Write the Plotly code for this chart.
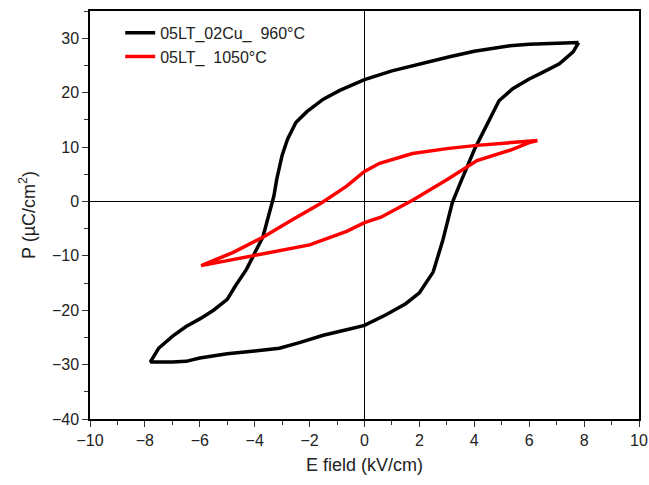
import plotly.graph_objects as go

# 05LT_02Cu_ 960°C loop: upper branch (field going down), then lower branch (field going up)
e_black_up = [7.8, 7.0, 6.0, 5.3, 4.5, 4.0, 3.1, 2.0, 1.0, 0.0, -0.9, -1.5, -2.1, -2.5,
              -2.8, -3.0, -3.2, -3.3, -3.5, -3.7, -4.0, -4.3, -4.7, -5.0, -5.5, -6.0,
              -6.5, -7.0, -7.5, -7.8]
p_black_up = [29.2, 29.1, 28.9, 28.6, 28.0, 27.6, 26.6, 25.3, 24.0, 22.4, 20.4, 18.8,
              16.5, 14.5, 11.5, 8.5, 4.0, 1.0, -3.0, -6.5, -9.5, -12.5, -15.5, -18.0,
              -20.0, -21.6, -23.0, -24.8, -27.0, -29.5]
e_black_dn = [-7.8, -7.0, -6.5, -6.0, -5.0, -4.0, -3.1, -2.4, -1.5, -0.5, 0.0, 0.8, 1.5,
              2.0, 2.5, 2.85, 3.2, 3.5, 3.7, 4.0, 4.3, 4.6, 4.9, 5.4, 6.0, 6.4, 7.1, 7.6, 7.8]
p_black_dn = [-29.5, -29.5, -29.4, -28.8, -28.0, -27.5, -27.0, -26.0, -24.6, -23.4, -22.8,
              -20.8, -18.8, -16.8, -13.0, -7.2, -0.2, 3.5, 6.0, 9.5, 12.5, 15.4, 18.5,
              20.7, 22.5, 23.5, 25.3, 27.5, 29.2]

# 05LT_ 1050°C loop
e_red_up = [6.3, 5.3, 4.1, 3.0, 1.75, 0.55, 0.0, -0.65, -1.6, -2.6, -3.7, -4.8, -5.8, -5.95]
p_red_up = [11.2, 10.8, 10.3, 9.7, 8.8, 7.0, 5.5, 2.8, -0.4, -3.3, -6.6, -9.4, -11.5, -11.8]
e_red_dn = [-5.95, -4.9, -3.5, -2.0, -0.65, 0.0, 0.6, 1.75, 3.0, 4.1, 5.3, 6.0, 6.3]
p_red_dn = [-11.8, -10.8, -9.4, -8.0, -5.5, -3.9, -2.9, 0.2, 4.0, 7.5, 9.4, 10.8, 11.2]

names = ["05LT_02Cu_\u00a0 960°C", "05LT_\u00a0 1050°C"]
colors = ["#000000", "#ff0000"]

x_ticks = [-10, -8, -6, -4, -2, 0, 2, 4, 6, 8, 10]
y_ticks = [-40, -30, -20, -10, 0, 10, 20, 30]

font = "Arial, Liberation Sans, sans-serif"

fig = go.Figure()
fig.add_trace(go.Scatter(
    x=e_black_up + e_black_dn, y=p_black_up + p_black_dn,
    mode="lines", name=names[0],
    line=dict(color=colors[0], width=3.5),
))
fig.add_trace(go.Scatter(
    x=e_red_up + e_red_dn, y=p_red_up + p_red_dn,
    mode="lines", name=names[1],
    line=dict(color=colors[1], width=3.5),
))

axis_common = dict(
    showgrid=False, automargin=False,
    zeroline=True, zerolinecolor="#000000", zerolinewidth=1.2,
    showline=True, linecolor="#000000", linewidth=1.5, mirror=True,
    ticks="outside", ticklen=6, tickwidth=1.3, tickcolor="#333333",
    tickfont=dict(family=font, size=16, color="#222222"),
)

fig.update_xaxes(
    range=[-10, 10], tickvals=x_ticks,
    minor=dict(dtick=1, ticks="outside", ticklen=4, tickwidth=1.3, tickcolor="#333333"),
    title=dict(text="E field (kV/cm)", font=dict(family=font, size=18, color="#222222"),
               standoff=10),
    **axis_common,
)
fig.update_yaxes(
    range=[-40, 35], tickvals=y_ticks,
    minor=dict(dtick=5, ticks="outside", ticklen=4, tickwidth=1.3, tickcolor="#333333"),
    title=dict(text="P (µC/cm<sup>2</sup>)", font=dict(family=font, size=18, color="#222222"),
               standoff=12),
    **axis_common,
)

fig.update_layout(
    width=649, height=485,
    margin=dict(l=90, r=10, t=11, b=66),
    plot_bgcolor="white", paper_bgcolor="white",
    showlegend=True,
    legend=dict(x=0.055, y=0.988, xanchor="left", yanchor="top",
                bgcolor="rgba(0,0,0,0)", font=dict(family=font, size=16, color="#222222"),
                tracegroupgap=0),
)

# drop the default page margin so the figure fills the window exactly
fig.write_html("out.html", config={"displayModeBar": False},
               post_script="document.body.style.margin='0px';"
               "document.body.style.overflow='hidden';")
